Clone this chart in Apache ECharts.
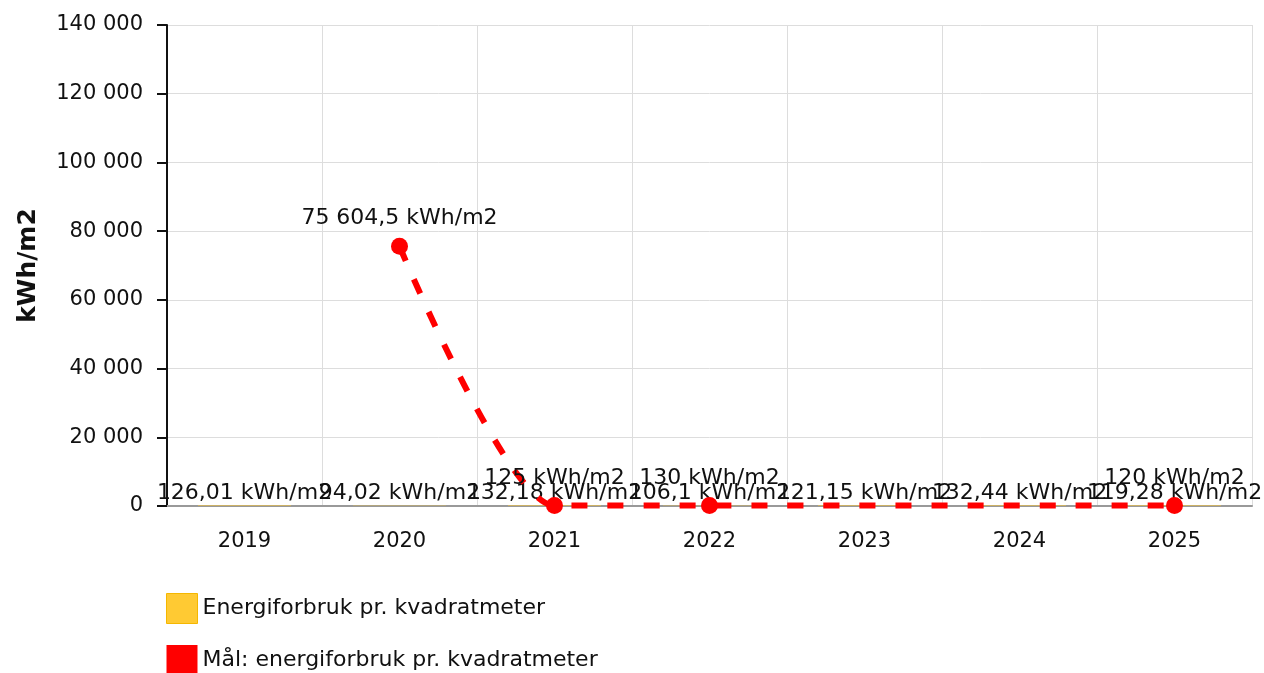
<!DOCTYPE html>
<html>
<head>
<meta charset="utf-8">
<script src="https://cdn.jsdelivr.net/npm/echarts@6/dist/echarts.min.js"></script>
<style>
html, body { margin: 0; padding: 0; background: #fff; }
#chart { width: 1264px; height: 673px; }
</style>
</head>
<body>
<div id="chart"></div>
<script>
var years = ['2019', '2020', '2021', '2022', '2023', '2024', '2025'];
var forbruk = [126.01, 94.02, 132.18, 106.1, 121.15, 132.44, 119.28];
var maal = [null, 75604.5, 125, 130, null, null, 120];
var yTicks = [0, 20000, 40000, 60000, 80000, 100000, 120000, 140000];

// norsk tallformat: mellomrom som tusenskille, komma som desimaltegn
function fmt(v) {
    var parts = String(v).split('.');
    var heltall = parts[0].replace(/\B(?=(\d{3})+(?!\d))/g, ' ');
    return parts.length > 1 ? heltall + ',' + parts[1] : heltall;
}

var chart = echarts.init(document.getElementById('chart'));
var font = 'DejaVu Sans, Verdana, sans-serif';
var txt = '#111';

var option = {
    animation: false,
    textStyle: { fontFamily: font, color: txt },
    grid: { left: 167, right: 12, top: 25, bottom: 167 },
    legend: {
        orient: 'vertical',
        left: 161,
        top: 588,
        height: 120,
        itemWidth: 31,
        itemHeight: 30,
        itemGap: 21,
        textStyle: { fontFamily: font, fontSize: 22, color: txt },
        data: [
            { name: 'Energiforbruk pr. kvadratmeter', icon: 'rect', itemStyle: { color: '#ffca33', borderColor: '#f5b700', borderWidth: 1 } },
            { name: 'Mål: energiforbruk pr. kvadratmeter', icon: 'rect', itemStyle: { color: '#ff0000' } }
        ]
    },
    xAxis: {
        type: 'category',
        data: years,
        axisLine: { lineStyle: { color: '#999', width: 2 } },
        axisTick: { alignWithLabel: true, length: 8, lineStyle: { color: '#999' } },
        axisLabel: { fontSize: 21, color: txt, margin: 25, fontFamily: font },
        splitLine: { show: true, lineStyle: { color: '#ddd' } }
    },
    yAxis: {
        type: 'value',
        min: yTicks[0],
        max: yTicks[yTicks.length - 1],
        interval: 20000,
        name: 'kWh/m2',
        nameLocation: 'middle',
        nameRotate: 90,
        nameGap: 126,
        nameTextStyle: { fontSize: 25, fontWeight: 'bold', color: txt, fontFamily: font },
        axisLine: { show: true, lineStyle: { color: '#111', width: 2 } },
        axisTick: { show: true, length: 10, lineStyle: { color: '#111', width: 2 } },
        axisLabel: {
            fontSize: 21, color: txt, margin: 24, fontFamily: font,
            formatter: function (v) { return fmt(v); }
        },
        splitLine: { lineStyle: { color: '#ddd' } }
    },
    series: [
        {
            name: 'Energiforbruk pr. kvadratmeter',
            type: 'bar',
            data: forbruk,
            barWidth: '60%',
            itemStyle: { color: '#ffca33' },
            label: {
                show: true,
                position: 'top',
                distance: 1,
                fontSize: 22,
                color: txt,
                fontFamily: font,
                formatter: function (p) { return fmt(p.value) + ' kWh/m2'; }
            }
        },
        {
            name: 'Mål: energiforbruk pr. kvadratmeter',
            type: 'line',
            data: maal,
            connectNulls: true,
            smooth: 0.3,
            smoothMonotone: 'x',
            symbol: 'circle',
            symbolSize: 17,
            itemStyle: { color: '#ff0000' },
            lineStyle: { color: '#ff0000', width: 6, type: [16, 20] },
            z: 5,
            label: {
                show: true,
                position: 'top',
                distance: 8,
                fontSize: 22,
                color: txt,
                fontFamily: font,
                formatter: function (p) { return fmt(p.value) + ' kWh/m2'; }
            }
        }
    ]
};
chart.setOption(option);
window.onresize = chart.resize;
</script>
</body>
</html>
